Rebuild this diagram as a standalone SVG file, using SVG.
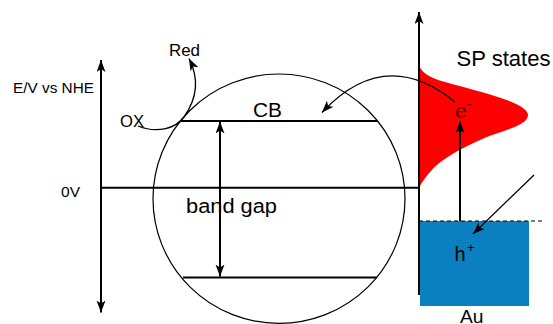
<svg xmlns="http://www.w3.org/2000/svg" width="553" height="324" viewBox="0 0 553 324">
<style>
text{font-family:"Liberation Sans",Arial,sans-serif;fill:#000}
.thick{stroke:#000;stroke-width:2;fill:none}
.thin{stroke:#000;stroke-width:1.3;fill:none}
</style>
<defs>
<marker id="ah" markerUnits="userSpaceOnUse" markerWidth="13" markerHeight="10" refX="12" refY="4.5" orient="auto" viewBox="0 0 13 10">
<path d="M0,0 L12,4.5 L0,9 L3,4.5 z" fill="#000"/>
</marker>
</defs>
<rect width="553" height="324" fill="#fff"/>

<g id="sp-states">
<path d="M419,66 C423,74 432,79 452,84 C485,93 528,103 528,115 C528,126 500,131 480,140 C458,150 440,160 430,172 C424,179 421,184 419,188 Z" fill="#ff0000"/>
</g>
<g id="au">
<rect x="420" y="221" width="109" height="85" fill="#0a80c0"/>
</g>

<g id="semiconductor">
<ellipse cx="279" cy="198.7" rx="126" ry="124.7" fill="none" stroke="#000" stroke-width="1.2"/>
</g>

<g id="cb">
<line class="thick" x1="181" y1="121" x2="377" y2="121"/>
<text x="253" y="117" font-size="20" textLength="29" lengthAdjust="spacingAndGlyphs">CB</text>
</g>
<g id="vb">
<line class="thick" x1="183" y1="277.5" x2="377" y2="277.5"/>
</g>
<g id="zero-line">
<line class="thick" x1="101" y1="187.7" x2="419" y2="187.7"/>
<text x="61" y="196.5" font-size="15" textLength="19" lengthAdjust="spacingAndGlyphs">0V</text>
</g>
<g id="fermi">
<line x1="419" y1="221" x2="545" y2="221" stroke="#000" stroke-width="1.2" stroke-dasharray="4,3"/>
</g>

<g id="labels">
<text x="13" y="92.7" font-size="14" textLength="81" lengthAdjust="spacingAndGlyphs">E/V vs NHE</text>
<text x="169" y="55.7" font-size="16" textLength="31" lengthAdjust="spacingAndGlyphs">Red</text>
<text x="120" y="126.7" font-size="16" textLength="24" lengthAdjust="spacingAndGlyphs">OX</text>
<text x="186" y="213.3" font-size="20" textLength="91" lengthAdjust="spacingAndGlyphs">band gap</text>
<text x="456.5" y="66" font-size="22" textLength="94" lengthAdjust="spacingAndGlyphs">SP states</text>
<text x="455" y="118.3" font-size="21" style="fill:#600000">e</text>
<text x="466.5" y="109" font-size="16" style="fill:#600000">-</text>
<text x="454.5" y="261" font-size="20">h</text>
<text x="467" y="252" font-size="13">+</text>
<text x="460" y="323" font-size="19" textLength="23.5" lengthAdjust="spacingAndGlyphs">Au</text>
</g>

<g id="connectors">
<line class="thick" x1="101" y1="187" x2="101" y2="60" marker-end="url(#ah)"/>
<line class="thick" x1="101" y1="187" x2="101" y2="312.5" marker-end="url(#ah)"/>
<line class="thick" x1="419" y1="295" x2="419" y2="12" marker-end="url(#ah)"/>
<line class="thick" x1="220" y1="200" x2="220" y2="121.5" marker-end="url(#ah)"/>
<line class="thick" x1="220" y1="200" x2="220" y2="276.5" marker-end="url(#ah)"/>
<line class="thick" x1="460" y1="221" x2="460" y2="121" marker-end="url(#ah)"/>
<path class="thin" d="M455,102 Q385,45 322,112.5" marker-end="url(#ah)"/>
<path class="thin" d="M138,126 C158,134 176,128 184,117 C196,100 200,80 189,58.5" marker-end="url(#ah)"/>
<line class="thin" x1="534" y1="175" x2="473" y2="234" marker-end="url(#ah)"/>
</g>
</svg>
